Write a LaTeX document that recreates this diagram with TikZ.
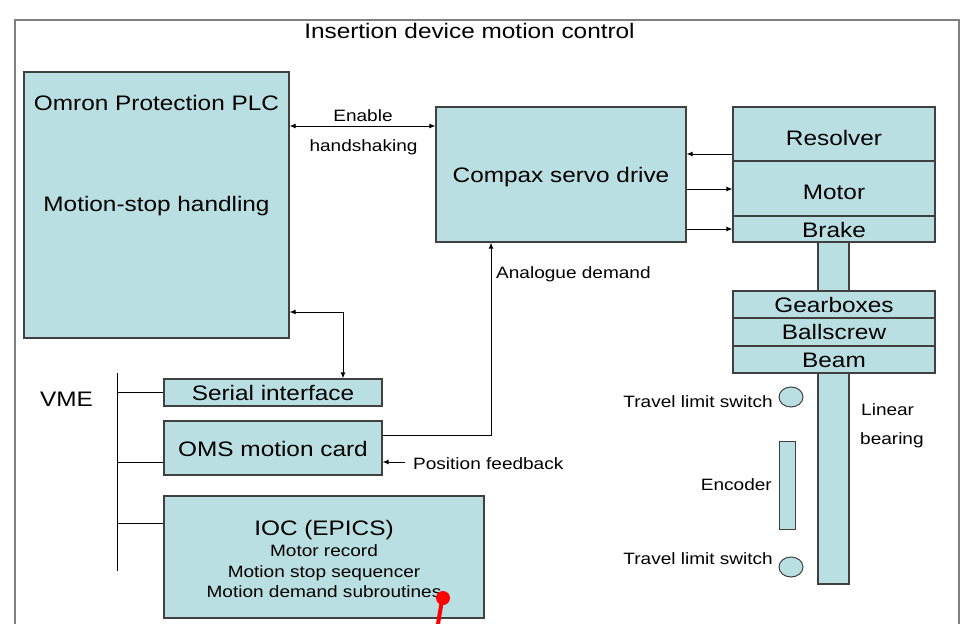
\documentclass[tikz,border=0pt]{standalone}
\usepackage{fontspec}
\setmainfont{Liberation Sans}[FakeStretch=1.16]
\usetikzlibrary{arrows.meta,shapes.geometric}
\definecolor{boxfill}{RGB}{186,223,227}
\definecolor{boxline}{RGB}{64,64,64}
\definecolor{framegray}{RGB}{128,128,128}
\newcommand\fBig{\fontsize{21}{24}\selectfont}
\newcommand\fSmall{\fontsize{16.4}{19}\selectfont}
\begin{document}
\begin{tikzpicture}[x=1pt,y=-1pt,
  box/.style={draw=boxline, fill=boxfill, line width=1.2pt, inner sep=0pt},
  big/.style={font=\fBig, inner sep=0pt, anchor=base},
  sml/.style={font=\fSmall, inner sep=0pt, anchor=base},
  conn/.style={draw=black, line width=1pt},
  tip/.style={-{Latex[length=6pt,width=5pt]}},
  tips/.style={{Latex[length=6pt,width=5pt]}-{Latex[length=6pt,width=5pt]}},
]
\useasboundingbox (0,0) rectangle (978,624);
\draw[framegray, line width=1.5pt] (15,640) -- (15,20) -- (959,20) -- (959,640);

% title
\node[big] (title) at (469.5,38) {Insertion device motion control};

% Omron PLC
\node[box, minimum width=265, minimum height=266] (omron) at (156.5,205) {};
\node[big] (omronA) at (156.5,110) {Omron Protection PLC};
\node[big] (omronB) at (156.5,211) {Motion-stop handling};

% Compax
\node[box, minimum width=250, minimum height=135] (compax) at (561,174.5) {};
\node[big] (compaxT) at (561,182) {Compax servo drive};

% motor stack and mechanics
\node[box, minimum width=31, minimum height=49] (shaft) at (833.5,266.5) {};
\node[box, minimum width=31, minimum height=211] (bearing) at (833.5,478.5) {};
\node[box, minimum width=202, minimum height=54] (resolver) at (834,134) {};
\node[box, minimum width=202, minimum height=55] (motor) at (834,188.5) {};
\node[box, minimum width=202, minimum height=26] (brake) at (834,229) {};
\node[box, minimum width=202, minimum height=27] (gear) at (834,304.5) {};
\node[box, minimum width=202, minimum height=28] (ball) at (834,332) {};
\node[box, minimum width=202, minimum height=27] (beam) at (834,359.5) {};
\node[big] (resolverT) at (834,145) {Resolver};
\node[big] (motorT) at (834,199) {Motor};
\node[big] (brakeT) at (834,237) {Brake};
\node[big] (gearT) at (834,312) {Gearboxes};
\node[big] (ballT) at (834,339) {Ballscrew};
\node[big] (beamT) at (834,367) {Beam};

\node[box, line width=1pt, ellipse, minimum width=24, minimum height=20] (lim1) at (791,397) {};
\node[box, line width=1pt, ellipse, minimum width=24, minimum height=20] (lim2) at (791,567) {};
\node[box, line width=1pt, minimum width=16, minimum height=88] (encoder) at (787,485) {};
\node[sml, anchor=base east] (lim1T) at (773,407) {Travel limit switch};
\node[sml, anchor=base east] (lim2T) at (773,564) {Travel limit switch};
\node[sml, anchor=base east] (encT) at (772,490) {Encoder};
\node[sml, anchor=base west] (linA) at (861,415) {Linear};
\node[sml, anchor=base west] (linB) at (860,444) {bearing};

% VME cards
\node[box, minimum width=218, minimum height=27] (serial) at (273,392.5) {};
\node[big] (serialT) at (273,400) {Serial interface};
\node[box, minimum width=218, minimum height=54] (oms) at (273,448) {};
\node[big] (omsT) at (273,456) {OMS motion card};
\node[box, minimum width=320, minimum height=122] (ioc) at (324,557) {};
\node[big] (iocA) at (324,535) {IOC (EPICS)};
\node[sml] (iocB) at (324,556) {Motor record};
\node[sml] (iocC) at (324,577) {Motion stop sequencer};
\node[sml] (iocD) at (324,597) {Motion demand subroutines};
\node[big] (vme) at (66.5,406) {VME};

% VME bus
\coordinate (vmetop) at (117,373);
\coordinate (vmebot) at (117,571);
\draw[conn] (vmetop) -- (vmebot);
\draw[conn] (vmetop |- serial.west) -- (serial.west);
\draw[conn] (vmetop |- 0,462) -- (oms.west |- 0,462);
\draw[conn] (vmetop |- 0,523) -- (ioc.west |- 0,523);

% connectors
\draw[conn, tips] (omron.east |- 0,126) -- (compax.west |- 0,126);
\node[sml] (enA) at (363,121) {Enable};
\node[sml] (enB) at (363.5,151) {handshaking};

\draw[conn, tip] (resolver.west |- 0,154) -- (compax.east |- 0,154);
\draw[conn, tip] (compax.east |- 0,189) -- (motor.west |- 0,189);
\draw[conn, tip] (compax.east |- 0,229) -- (brake.west |- 0,229);

\draw[conn, tips] (omron.east |- 0,312) -| (serial.north -| 343,0);

\draw[conn, tip] (oms.east |- 0,435) -| (compax.south -| 491,0);
\node[sml, anchor=base west] (anaT) at (496,278) {Analogue demand};

\coordinate (pf) at (405,462);
\draw[conn, tip] (pf) -- (oms.east |- pf);
\node[sml, anchor=base west] (pfT) at (413,469) {Position feedback};

% red marker
\draw[red, line width=4pt] (442,600) -- (437,630);
\fill[red] (443,598) circle [radius=7];
\end{tikzpicture}
\end{document}
